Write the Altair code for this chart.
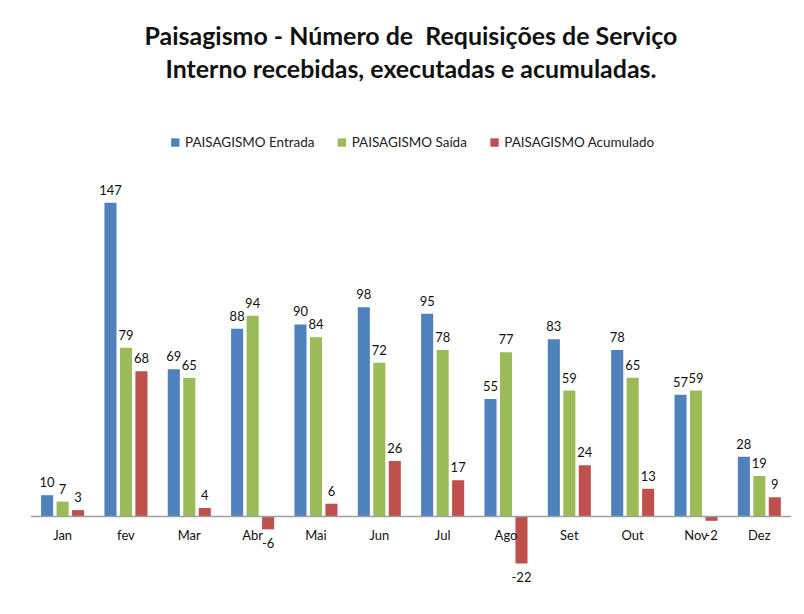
import altair as alt
import pandas as pd

months = ["Jan", "fev", "Mar", "Abr", "Mai", "Jun", "Jul", "Ago", "Set", "Out", "Nov", "Dez"]
series = ["PAISAGISMO Entrada", "PAISAGISMO Saída", "PAISAGISMO Acumulado"]
entrada = [10, 147, 69, 88, 90, 98, 95, 55, 83, 78, 57, 28]
saida = [7, 79, 65, 94, 84, 72, 78, 77, 59, 65, 59, 19]
acumulado = [3, 68, 4, -6, 6, 26, 17, -22, 24, 13, -2, 9]
colors = ["#4F81BD", "#9BBB59", "#C0504D"]

rows = []
for s, vals in zip(series, [entrada, saida, acumulado]):
    for m, v in zip(months, vals):
        rows.append({"mes": m, "serie": s, "valor": v})
df = pd.DataFrame(rows)
mdf = pd.DataFrame({"mes": months, "zero": [0] * len(months)})

FONT = "Lato"
xscale = alt.Scale(domain=months, paddingInner=0.32, paddingOuter=0.16)
yscale = alt.Scale(domain=[-35, 150], nice=False, zero=False)
x = alt.X("mes:N", scale=xscale, axis=None)
xo = alt.XOffset("serie:N", scale=alt.Scale(domain=series, paddingInner=0.22), sort=series)

base = alt.Chart(df).transform_calculate(rotulo="toString(datum.valor)")
bars = base.mark_bar().encode(
    x=x,
    xOffset=xo,
    y=alt.Y("valor:Q", scale=yscale, axis=None),
    color=alt.Color(
        "serie:N",
        scale=alt.Scale(domain=series, range=colors),
        sort=series,
        legend=alt.Legend(
            title=None,
            orient="none",
            direction="horizontal",
            legendX=138,
            legendY=-61,
            symbolType="square",
            symbolSize=70,
            symbolStrokeWidth=0,
            labelFont=FONT,
            labelFontSize=13.5,
            labelColor="#222",
            columnPadding=20,
            labelOffset=3,
        ),
    ),
)

pos = base.transform_filter("datum.valor >= 0").mark_text(
    baseline="bottom", dy=-5, font=FONT, fontSize=13, color="#111"
).encode(x=x, xOffset=xo, y=alt.Y("valor:Q", scale=yscale), text="rotulo:N")

neg = base.transform_filter("datum.valor < 0").mark_text(
    baseline="top", dy=9, font=FONT, fontSize=13, color="#111"
).encode(x=x, xOffset=xo, y=alt.Y("valor:Q", scale=yscale), text="rotulo:N")

zero = alt.Chart(pd.DataFrame({"v": [0]})).mark_rule(color="#a0a0a0", strokeWidth=1.5).encode(
    y=alt.Y("v:Q", scale=yscale)
)

labels = alt.Chart(mdf).mark_text(
    baseline="middle", dy=20, font=FONT, fontSize=13, color="#111"
).encode(x=x, y=alt.Y("zero:Q", scale=yscale), text="mes:N")

chart = (
    alt.layer(bars, zero, pos, neg, labels)
    .properties(
        width=762,
        height=396,
        padding={"left": 22, "right": 4, "top": 16, "bottom": 4},
        title=alt.TitleParams(
            text=["Paisagismo - Número de \u00a0Requisições de Serviço", "Interno recebidas, executadas e acumuladas."],
            font=FONT,
            fontSize=25,
            fontWeight="bold",
            color="#111",
            anchor="middle",
            frame="group",
            lineHeight=33,
            offset=53,
        ),
    )
    .configure(background="white", view=alt.ViewConfig(stroke=None, strokeWidth=0))
)

chart.save("out.html", embed_options={"renderer": "svg", "actions": False})
